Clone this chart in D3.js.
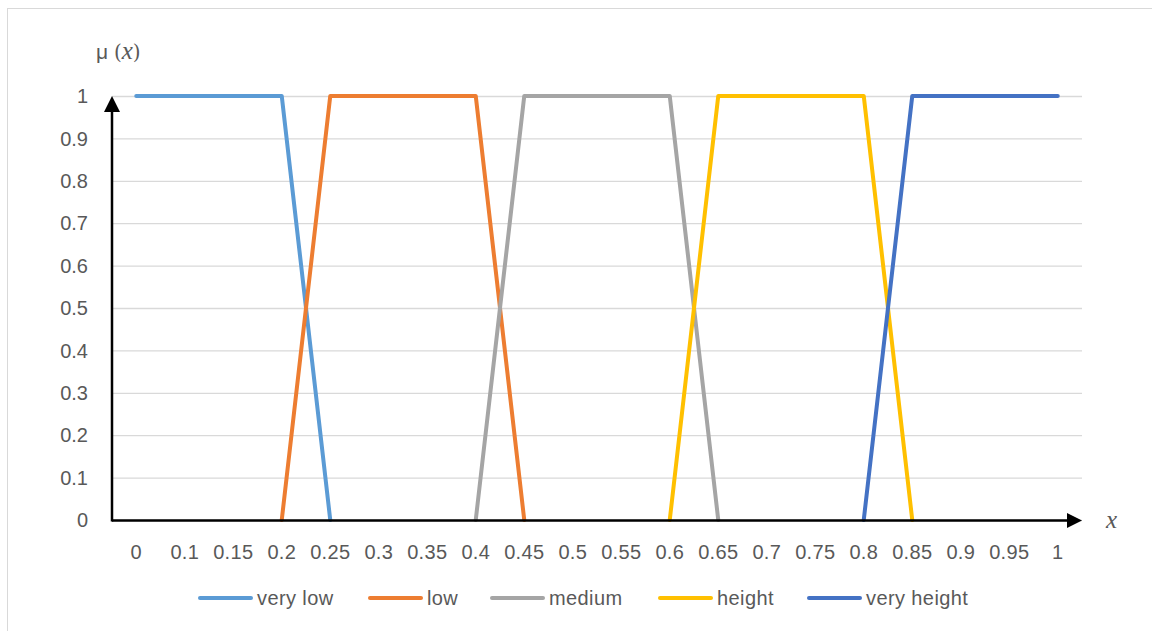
<!DOCTYPE html>
<html><head><meta charset="utf-8">
<script src="https://cdn.jsdelivr.net/npm/d3@7"></script>
<style>body{margin:0;background:#fff}svg{display:block}</style>
</head><body>
<svg id="c" width="1152" height="631"></svg>
<script>
const categories = ["0","0.1","0.15","0.2","0.25","0.3","0.35","0.4","0.45","0.5","0.55","0.6","0.65","0.7","0.75","0.8","0.85","0.9","0.95","1"];
const veryLow    = [1,1,1,1,0,null,null,null,null,null,null,null,null,null,null,null,null,null,null,null];
const low        = [null,null,null,0,1,1,1,1,0,null,null,null,null,null,null,null,null,null,null,null];
const medium     = [null,null,null,null,null,null,null,0,1,1,1,1,0,null,null,null,null,null,null,null];
const height     = [null,null,null,null,null,null,null,null,null,null,null,0,1,1,1,1,0,null,null,null];
const veryHeight = [null,null,null,null,null,null,null,null,null,null,null,null,null,null,null,0,1,1,1,1];
const seriesNames = ["very low","low","medium","height","very height"];
const seriesColors = ["#5B9BD5","#ED7D31","#A5A5A5","#FFC000","#4472C4"];
const yTicks = [0,0.1,0.2,0.3,0.4,0.5,0.6,0.7,0.8,0.9,1];
const seriesData = [veryLow, low, medium, height, veryHeight];

const svg = d3.select("#c");
const font = "'Liberation Sans', Arial, sans-serif";
const txt = "#595959";
svg.append("rect").attr("x",7.5).attr("y",8.5).attr("width",1160).attr("height",640)
  .attr("fill","#fff").attr("stroke","#d9d9d9");

const x = d3.scaleBand().domain(categories).range([112,1082]);
const y = d3.scaleLinear().domain([0,1]).range([520,96]);

// gridlines
svg.append("g").selectAll("line").data(yTicks).join("line")
  .attr("x1",112).attr("x2",1082).attr("y1",d=>y(d)+0.5).attr("y2",d=>y(d)+0.5)
  .attr("stroke","#d9d9d9").attr("stroke-width",1.3);

// y axis labels
const ya = svg.append("g").attr("transform","translate(112,0)")
  .call(d3.axisLeft(y).tickValues(yTicks).tickFormat(d3.format("~g")).tickSize(0).tickPadding(24));
ya.select(".domain").remove();
ya.selectAll("text").attr("font-family",font).attr("font-size",20).attr("fill",txt).attr("dy","0.33em");

// x axis labels
const xa = svg.append("g").attr("transform","translate(0,520)")
  .call(d3.axisBottom(x).tickSize(0).tickPadding(0));
xa.select(".domain").remove();
xa.selectAll("text").attr("font-family",font).attr("font-size",20).attr("fill",txt)
  .attr("dy",0).attr("y",39).attr("letter-spacing","0.3px");

// lines
const line = d3.line().defined(d=>d.v!==null).x(d=>x(d.c)+x.bandwidth()/2).y(d=>y(d.v));
seriesData.forEach((arr,i)=>{
  svg.append("path").datum(arr.map((v,j)=>({c:categories[j],v})))
    .attr("d",line).attr("fill","none").attr("stroke",seriesColors[i])
    .attr("stroke-width",4).attr("stroke-linejoin","round").attr("stroke-linecap","round");
});

// axes with arrows
svg.append("line").attr("x1",112).attr("x2",1070).attr("y1",520.5).attr("y2",520.5)
  .attr("stroke","#000").attr("stroke-width",2.5);
svg.append("path").attr("d","M1067,513 L1082,520.5 L1067,528 Z").attr("fill","#000");
svg.append("line").attr("x1",112).attr("x2",112).attr("y1",521.5).attr("y2",108)
  .attr("stroke","#000").attr("stroke-width",2.5);
svg.append("path").attr("d","M104,112 L112,96 L120,112 Z").attr("fill","#000");

// axis titles
const t1 = svg.append("text").attr("x",96).attr("y",59).attr("font-size",21).attr("fill",txt);
t1.append("tspan").attr("font-family",font).text("μ ");
t1.append("tspan").attr("font-family","'DejaVu Serif', serif").attr("font-size",20).text("(");
t1.append("tspan").attr("font-family","'Liberation Serif', serif").attr("font-style","italic").attr("font-size",25).text("x");
t1.append("tspan").attr("font-family","'DejaVu Serif', serif").attr("font-size",20).text(")");
svg.append("text").attr("x",1106).attr("y",528).attr("font-family","'Liberation Serif', serif")
  .attr("font-style","italic").attr("font-size",25).attr("fill",txt).text("x");

// legend
const legX = [198,368,490,658,807];
const lg = svg.append("g");
seriesNames.forEach((n,i)=>{
  lg.append("line").attr("x1",legX[i]+2).attr("x2",legX[i]+53).attr("y1",598).attr("y2",598)
    .attr("stroke",seriesColors[i]).attr("stroke-width",4).attr("stroke-linecap","round");
  lg.append("text").attr("x",legX[i]+59).attr("y",605).attr("font-family",font)
    .attr("font-size",20).attr("letter-spacing","0.4px").attr("fill",txt).text(n);
});
</script>
</body></html>
